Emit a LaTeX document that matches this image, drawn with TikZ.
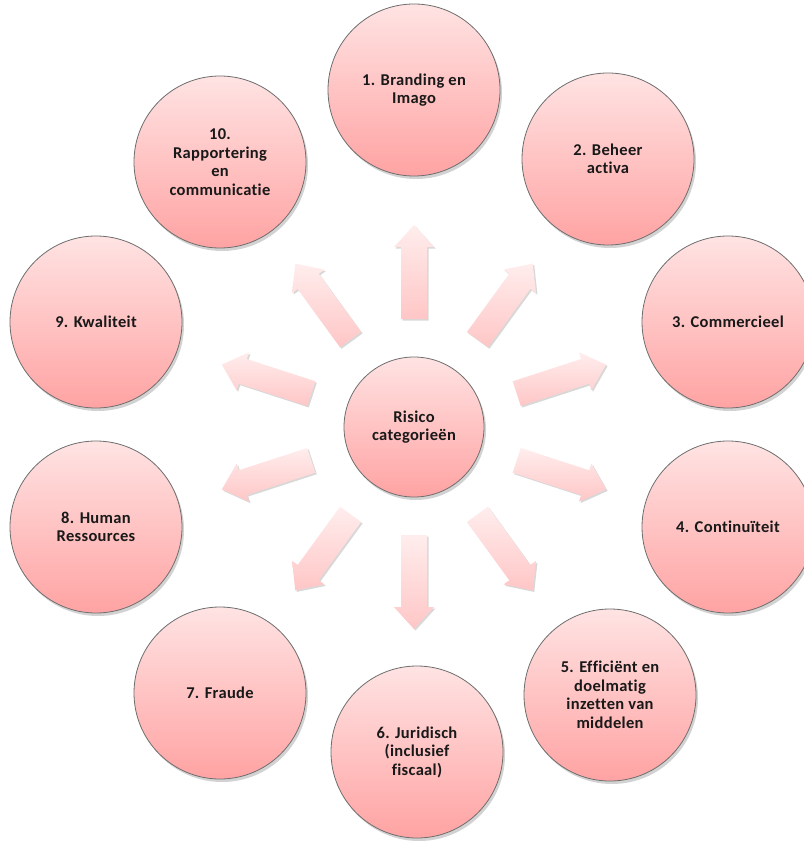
\documentclass[tikz,border=0pt]{standalone}
\usepackage{fontspec}
\setmainfont{Carlito}[Ligatures=NoCommon, LetterSpace=2]
\usetikzlibrary{shadows}
\definecolor{ctop}{HTML}{FFE3E3}
\definecolor{cbot}{HTML}{FFA3A3}
\definecolor{atop}{HTML}{FFEDED}
\definecolor{abot}{HTML}{FFC6C6}
\definecolor{cline}{HTML}{6E6E6E}
\begin{document}
\begin{tikzpicture}[x=1pt,y=-1pt,
  circ/.style={circle, draw=cline, line width=0.8pt, top color=ctop, bottom color=cbot,
    minimum size=172pt, inner sep=0pt, align=center, text=black!90,
    font=\fontsize{16.5}{18.5}\selectfont\bfseries,
    drop shadow={opacity=0.35, shadow xshift=2pt, shadow yshift=-3pt}},
  hub/.style={circ, minimum size=140pt},
  blockarrow/.style={top color=atop, bottom color=abot, draw=none,
    drop shadow={opacity=0.3, shadow xshift=1.5pt, shadow yshift=-1.5pt}}]
\useasboundingbox (0,0) rectangle (803,842);
\fill[white] (0,0) rectangle (803,842);
% arrows
\foreach \a in {90,54,18,-18,-54,-90,-126,-162,162,126}{
  \begin{scope}[shift={(414,427)}, rotate=-\a]
    \path[blockarrow] (108,-13) -- (180,-13) -- (180,-20) -- (202,0) -- (180,20) -- (180,13) -- (108,13) -- cycle;
  \end{scope}
}
\node[hub] (hub) at (414,427) {Risico\\categorieën};
\node[circ] (c1) at (414,90) {1. Branding en\\Imago};
\node[circ] (c2) at (608,159) {2. Beheer\\activa};
\node[circ] (c3) at (728,322) {3. Commercieel};
\node[circ] (c4) at (728,527) {4. Continuïteit};
\node[circ] (c5) at (610,695) {5. Efficiënt en\\doelmatig\\inzetten van\\middelen};
\node[circ] (c6) at (417,752) {6. Juridisch\\(inclusief\\fiscaal)};
\node[circ] (c7) at (220,693) {7. Fraude};
\node[circ] (c8) at (96,527) {8. Human\\Ressources};
\node[circ] (c9) at (96,322) {9. Kwaliteit};
\node[circ] (c10) at (220,162) {10.\\Rapportering\\en\\communicatie};
\end{tikzpicture}
\end{document}
